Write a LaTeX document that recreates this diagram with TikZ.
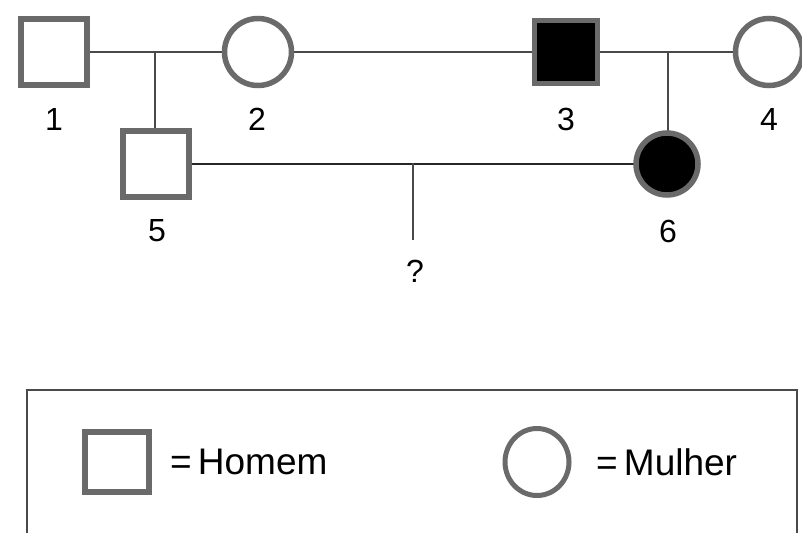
\documentclass[tikz,border=0pt]{standalone}
\usepackage{fontspec}
\setmainfont{Liberation Sans}
\usetikzlibrary{shapes.geometric}
\definecolor{shapegray}{HTML}{6A6A6A}
\definecolor{linegray}{HTML}{4A4A4A}
\begin{document}
\begin{tikzpicture}[x=1pt,y=-1pt,
  person/.style={draw=shapegray, line width=5.5pt, fill=white, inner sep=0pt},
  male/.style={person, rectangle, minimum size=66pt},
  female/.style={person, circle, minimum size=67pt},
  affected/.style={fill=black},
  link/.style={draw=linegray, line width=2.6pt},
  lbl/.style={font=\fontsize{32}{32}\selectfont, inner sep=0pt},
  legendtext/.style={font=\fontsize{37}{37}\selectfont, inner sep=0pt, anchor=west}]
\useasboundingbox (0,0) rectangle (802,532);
\clip (0,0) rectangle (802,532);
\coordinate (m12) at (155,52);
\coordinate (m34) at (668,52);
\coordinate (m56) at (413,163);
\coordinate (q) at (413,240);
% connectors (under the shapes)
\node[male, draw=none, fill=none] (p1) at (54,52) {};
\node[female, draw=none, fill=none] (p2) at (258,52) {};
\node[male, draw=none, fill=none, minimum size=63pt] (p3) at (566,52) {};
\node[female, draw=none, fill=none] (p4) at (769,52) {};
\node[male, draw=none, fill=none] (p5) at (156,164) {};
\node[female, draw=none, fill=none, minimum size=62pt] (p6) at (667,164) {};
\draw[link] (p1.center) -- (p4.center);
\draw[link] (m12) -- (m12 |- p5.center);
\draw[link] (m34) -- (m34 |- p6.center);
\draw[link, draw=black!85] (p5.center) -- (p6.center);
\draw[link] (m56) -- (q);
% individuals
\node[male] at (p1) {};
\node[female] at (p2) {};
\node[male, affected, minimum size=63pt] at (p3) {};
\node[female] at (p4) {};
\node[male] at (p5) {};
\node[female, affected, minimum size=62pt] at (p6) {};
% labels
\node[lbl] (l1) at (54,119) {1};
\node[lbl] (l2) at (257,119) {2};
\node[lbl] (l3) at (566,119) {3};
\node[lbl] (l4) at (769,119) {4};
\node[lbl] (l5) at (157,231) {5};
\node[lbl] (l6) at (668,231) {6};
\node[lbl] (lq) at (415,271) {?};
% legend
\draw[draw=linegray, line width=2.2pt] (27,390) rectangle (797,580);
\node[male, minimum width=64pt, minimum height=60pt] (lm) at (117,462) {};
\node[person, line width=5pt, ellipse, minimum width=64pt, minimum height=67pt] (lf) at (537,462) {};
\node[legendtext] (th) at (170,462) {=\,Homem};
\node[legendtext] (tf) at (596,462) {=\,Mulher};
\end{tikzpicture}
\end{document}
